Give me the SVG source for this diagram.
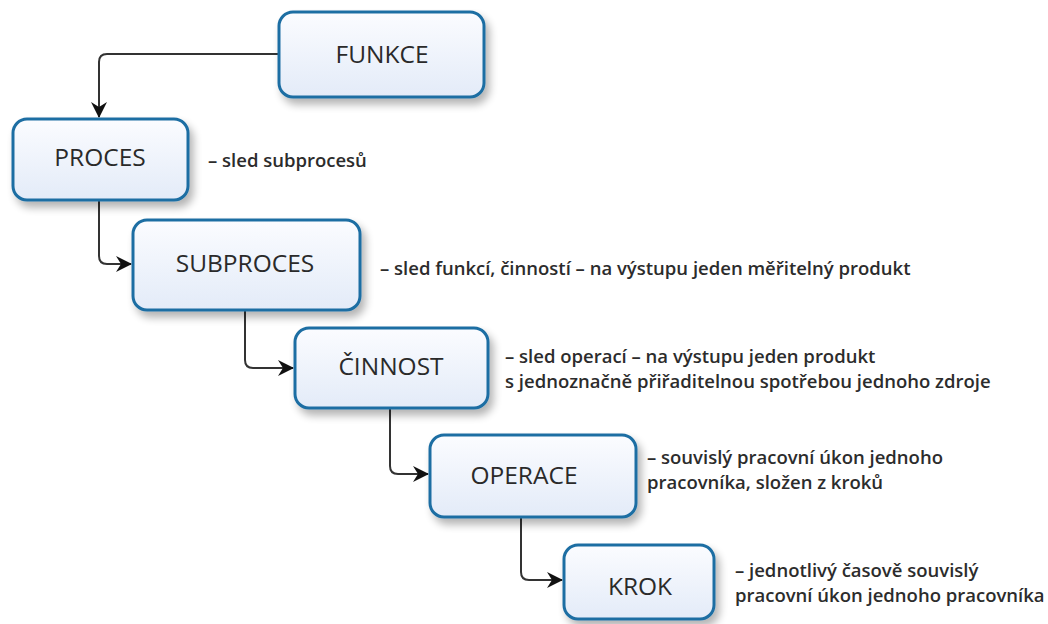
<svg xmlns="http://www.w3.org/2000/svg" width="1048" height="624" viewBox="0 0 1048 624">
  <style>
    .box { fill: url(#boxFill); stroke: #1f6ea3; stroke-width: 3; filter: url(#shadow); }
    .lbl { font-family: "Open Sans", "DejaVu Sans", sans-serif; font-size: 24.5px; fill: #2a2a2a; text-anchor: middle; }
    .desc { font-family: "Open Sans", "DejaVu Sans", sans-serif; font-size: 18.5px; font-weight: 600; fill: #2c2c2c; }
    .conn { fill: none; stroke: #333; stroke-width: 2; marker-end: url(#arrow); }
  </style>
  <defs>
    <linearGradient id="boxFill" x1="0" y1="0" x2="0" y2="1">
      <stop offset="0" stop-color="#fbfcff"/>
      <stop offset="1" stop-color="#e3ebf8"/>
    </linearGradient>
    <filter id="shadow" x="-10%" y="-10%" width="125%" height="140%">
      <feGaussianBlur in="SourceAlpha" stdDeviation="4"/>
      <feOffset dx="4" dy="6" result="b"/>
      <feComponentTransfer><feFuncA type="linear" slope="0.3"/></feComponentTransfer>
      <feMerge><feMergeNode/><feMergeNode in="SourceGraphic"/></feMerge>
    </filter>
    <marker id="arrow" viewBox="0 0 16 16" refX="15" refY="8" markerWidth="16" markerHeight="16" markerUnits="userSpaceOnUse" orient="auto">
      <path d="M0,0 L16,8 L0,16 L5,8 Z" fill="#111"/>
    </marker>
  </defs>

  <g id="connectors">
    <path class="conn" d="M278,54 H107 Q99,54 99,62 V117"/>
    <path class="conn" d="M99,201 V256 Q99,264 107,264 H131"/>
    <path class="conn" d="M245,311 V360 Q245,368 253,368 H293"/>
    <path class="conn" d="M390,409 V466 Q390,474 398,474 H428"/>
    <path class="conn" d="M521,518 V572 Q521,580 529,580 H562"/>
  </g>

  <g id="funkce">
    <rect class="box" x="279" y="12" width="205" height="85" rx="14"/>
    <text class="lbl" x="382" y="63">FUNKCE</text>
  </g>

  <g id="proces">
    <rect class="box" x="13" y="119" width="175" height="81" rx="14"/>
    <text class="lbl" x="100" y="166">PROCES</text>
    <text class="desc" x="208" y="167">– sled subprocesů</text>
  </g>

  <g id="subproces">
    <rect class="box" x="133" y="220" width="227" height="90" rx="14"/>
    <text class="lbl" x="245" y="272">SUBPROCES</text>
    <text class="desc" x="380" y="275">– sled funkcí, činností – na výstupu jeden měřitelný produkt</text>
  </g>

  <g id="cinnost">
    <rect class="box" x="295" y="328" width="193" height="80" rx="14"/>
    <text class="lbl" x="391" y="375">ČINNOST</text>
    <text class="desc" x="505" y="363">– sled operací – na výstupu jeden produkt</text>
    <text class="desc" x="505" y="388">s jednoznačně přiřaditelnou spotřebou jednoho zdroje</text>
  </g>

  <g id="operace">
    <rect class="box" x="430" y="435" width="206" height="82" rx="14"/>
    <text class="lbl" x="524" y="484">OPERACE</text>
    <text class="desc" x="647" y="464">– souvislý pracovní úkon jednoho</text>
    <text class="desc" x="647" y="489">pracovníka, složen z kroků</text>
  </g>

  <g id="krok">
    <rect class="box" x="564" y="545" width="150" height="74" rx="14"/>
    <text class="lbl" x="640" y="595">KROK</text>
    <text class="desc" x="735" y="577">– jednotlivý časově souvislý</text>
    <text class="desc" x="735" y="602">pracovní úkon jednoho pracovníka</text>
  </g>
</svg>
